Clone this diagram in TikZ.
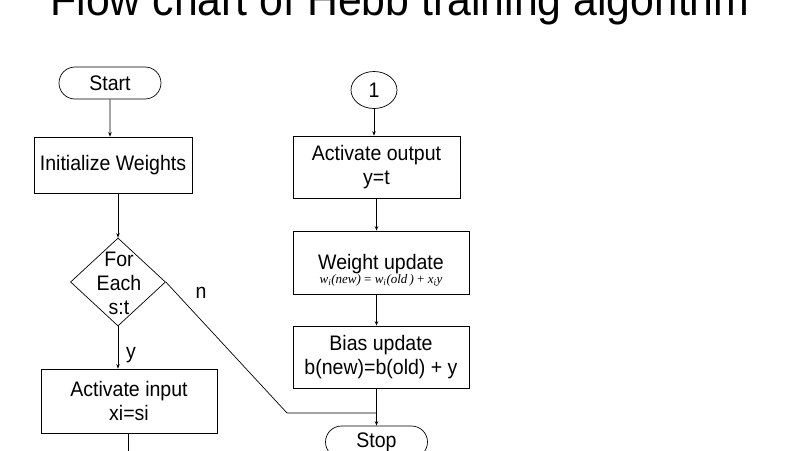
\documentclass[tikz,border=0pt]{standalone}
\usepackage{amsmath}
\usepackage{fontspec}
\setmainfont{Liberation Sans}[FakeStretch=0.93]
\newfontfamily\formfont{Liberation Serif}
\usetikzlibrary{shapes.geometric,shapes.misc,arrows.meta}

\begin{document}
\begin{tikzpicture}[x=1pt,y=-1pt,line width=0.7pt,
  >={Stealth[length=4.5pt,width=3.5pt]},
  font=\fontsize{21}{24}\selectfont,
  term/.style={draw,rounded rectangle,minimum width=102pt,minimum height=32pt,inner sep=0pt},
  proc/.style={draw,rectangle,inner sep=0pt,align=center},
  decision/.style={draw,diamond,minimum width=95pt,minimum height=88pt,inner sep=0pt}]
\useasboundingbox (0,0) rectangle (800,450);
\node (title) [anchor=base,font=\fontsize{46}{52}\selectfont] at (400,15) {Flow chart of Hebb training algorithm};
% left column
\node (start) [term] at (110,83) {Start};
\node (init) [proc,minimum width=158pt,minimum height=56pt] at (113,165) {Initialize Weights};
\node (dec) [decision] at (118,282) {};
\node (dectext) [align=center,inner sep=0pt] at (119,283) {For\\Each\\s:t};
\node (inp) [proc,minimum width=176pt,minimum height=64pt] at (129,401) {Activate input\\xi=si};
\coordinate (inpend) at (128,460);
\node (ylab) [anchor=base] at (131,358) {y};
\node (nlab) [anchor=base] at (201,298) {n};
% right column
\node (one) [draw,ellipse,minimum width=46pt,minimum height=37pt,inner sep=0pt] at (374,90) {1};
\node (out) [proc,minimum width=167pt,minimum height=62pt] at (376.5,167) {Activate output\\y=t};
\node (wu) [proc,minimum width=176pt,minimum height=63pt] at (381,262.5)
  {\rule{0pt}{31pt}Weight update\\[-10pt]{\formfont\fontsize{13}{15}\selectfont\itshape w\textsubscript{i}(new) {\upshape=} w\textsubscript{i}(old\,) {\upshape+} x\textsubscript{i}y}};
\node (bias) [proc,minimum width=176pt,minimum height=62pt] at (381,357) {Bias update\\b(new)=b(old) + y};
\node (stop) [term] at (376.5,442) {Stop};
\coordinate (nbend) at (287,413);
% connectors
\draw [->] (start) -- (start |- init.north);
\draw [->] (dec.north |- init.south) -- (dec.north);
\draw [->] (dec.south) -- (dec.south |- inp.north);
\draw (inp.south -| inpend) -- (inpend);
\draw (dec.east) -- (nbend) -- (nbend -| out);
\draw [->] (one) -- (one |- out.north);
\draw [->] (out.south) -- (out.south |- wu.north);
\draw [->] (wu.south -| out) -- (bias.north -| out);
\draw [->] (bias.south -| out) -- (stop.north);
\end{tikzpicture}
\end{document}
